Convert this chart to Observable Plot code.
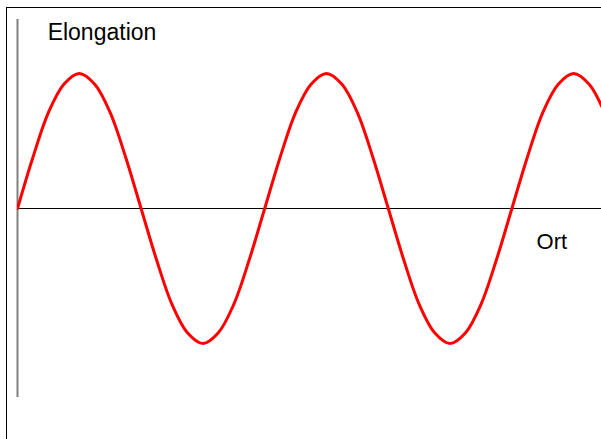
<!DOCTYPE html>
<html>
<head>
<meta charset="utf-8">
<script src="https://cdn.jsdelivr.net/npm/d3@7"></script>
<script src="https://cdn.jsdelivr.net/npm/@observablehq/plot@0.6"></script>
<style>
  html, body { margin: 0; padding: 0; background: #fff; }
  #wrap { position: relative; width: 601px; height: 439px; overflow: hidden; }
  #frame { position: absolute; left: 6px; top: 7px; right: -2px; bottom: -2px;
           border-left: 1px solid #000; border-top: 1px solid #000; pointer-events: none; }
  svg { display: block; }
</style>
</head>
<body>
<div id="wrap"><div id="frame"></div></div>
<script>
// Position along the wave ("Ort"), in sixteenths of a wavelength
const ort = [0,1,2,3,4,5,6,7,8,9,10,11,12,13,14,15,16,17,18,19,20,21,22,23,24,25,26,27,28,29,30,31,32,33,34,35,36,37,38,39];
// Elongation (amplitude = 1)
const elongation = [0,0.38,0.71,0.92,1,0.92,0.71,0.38,0,-0.38,-0.71,-0.92,-1,-0.92,-0.71,-0.38,
                    0,0.38,0.71,0.92,1,0.92,0.71,0.38,0,-0.38,-0.71,-0.92,-1,-0.92,-0.71,-0.38,
                    0,0.38,0.71,0.92,1,0.92,0.71,0.38];
const labels = [
  {text: "Elongation", x: 1.95, y: 1.25, size: 23},
  {text: "Ort", x: 33.6, y: -0.297, size: 22}
];

const data = ort.map((o, i) => ({ort: o, elong: elongation[i]}));

const chart = Plot.plot({
  width: 601,
  height: 439,
  marginLeft: 17,
  marginRight: 0,
  marginTop: 19,
  marginBottom: 42,
  x: {domain: [0, 37.8], axis: null},
  y: {domain: [-1.4, 1.4], axis: null},
  style: {background: "transparent", fontFamily: "'Liberation Sans', Arial, sans-serif"},
  marks: [
    Plot.ruleY([0], {stroke: "#000", strokeWidth: 1}),
    Plot.ruleX([0], {stroke: "#808080", strokeWidth: 2, y1: -1.4, y2: 1.4}),
    Plot.line(data, {x: "ort", y: "elong", stroke: "#ff0000", strokeWidth: 3, curve: "catmull-rom", clip: true}),
    Plot.text(labels, {x: "x", y: "y", text: "text", textAnchor: "start", lineAnchor: "bottom", fontSize: d => d.size, fill: "#000"})
  ]
});
document.getElementById("wrap").prepend(chart);
</script>
</body>
</html>
